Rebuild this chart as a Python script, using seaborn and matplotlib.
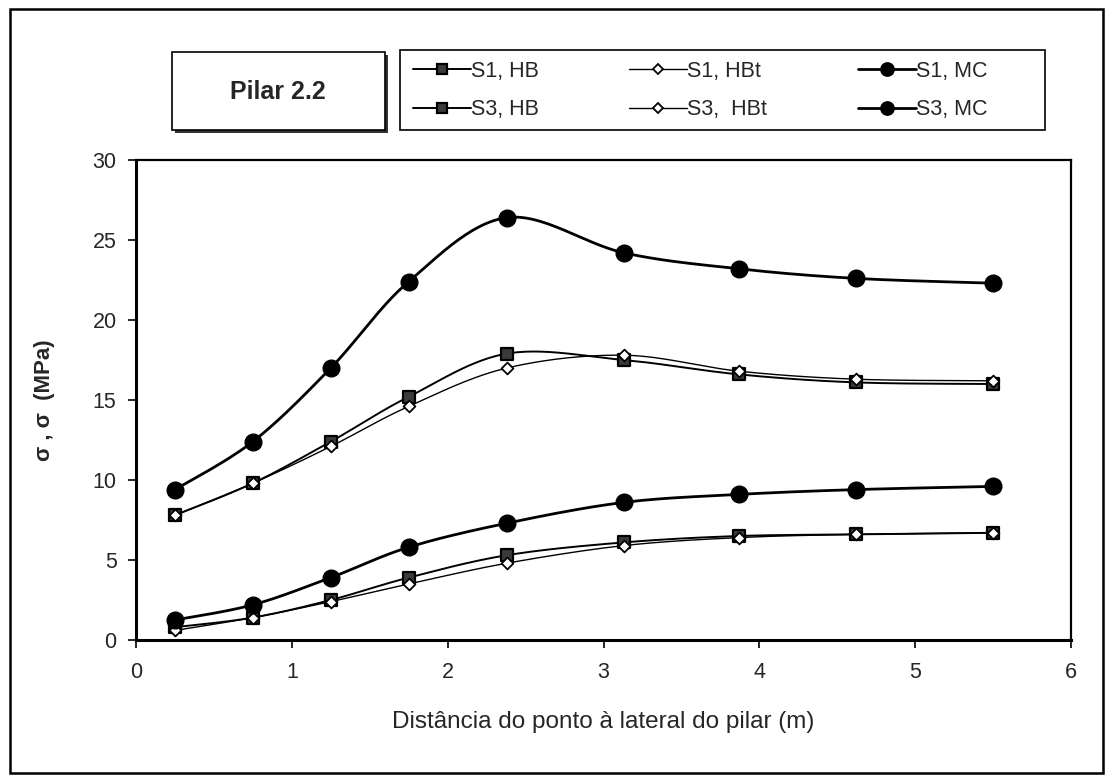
import numpy as np
import pandas as pd
import matplotlib
matplotlib.use("Agg")
import matplotlib.pyplot as plt
from matplotlib.lines import Line2D
from matplotlib.patches import Rectangle
import seaborn as sns

# Distance from the pillar side (m)
dist = [0.25, 0.75, 1.25, 1.75, 2.38, 3.13, 3.87, 4.62, 5.50]

# Stress values (MPa)
s1_hb = [0.8, 1.4, 2.5, 3.9, 5.3, 6.1, 6.5, 6.6, 6.7]
s1_hbt = [0.6, 1.4, 2.4, 3.5, 4.8, 5.9, 6.4, 6.6, 6.7]
s1_mc = [1.25, 2.2, 3.9, 5.8, 7.3, 8.6, 9.1, 9.4, 9.6]
s3_hb = [7.8, 9.8, 12.4, 15.2, 17.9, 17.5, 16.6, 16.1, 16.0]
s3_hbt = [7.8, 9.8, 12.1, 14.6, 17.0, 17.8, 16.8, 16.3, 16.2]
s3_mc = [9.4, 12.4, 17.0, 22.4, 26.4, 24.2, 23.2, 22.6, 22.3]

series_names = ["S1, HB", "S1, HBt", "S1, MC", "S3, HB", "S3,  HBt", "S3, MC"]
series_values = [s1_hb, s1_hbt, s1_mc, s3_hb, s3_hbt, s3_mc]

title_text = "Pilar 2.2"
x_label = "Distância do ponto à lateral do pilar (m)"
y_label = "σ , σ  (MPa)"
x_ticks = [0, 1, 2, 3, 4, 5, 6]
y_ticks = [0, 5, 10, 15, 20, 25, 30]

styles = {
    "HB": dict(marker="s", ms=9, mfc="#3a3a3a", mec="black", mew=1.6, lw=1.4),
    "HBt": dict(marker="D", ms=6, mfc="white", mec="black", mew=1.3, lw=1.0),
    "MC": dict(marker="o", ms=12, mfc="black", mec="black", mew=1.0, lw=2.0),
}


def smooth_curve(xs, ys, steps=30):
    """Cubic Bezier smoothing through the points (Catmull-Rom style)."""
    p = np.column_stack([xs, ys]).astype(float)
    ext = np.vstack([p[0], p, p[-1]])
    out = []
    for i in range(len(p) - 1):
        p0, p1, p2, p3 = ext[i], ext[i + 1], ext[i + 2], ext[i + 3]
        c1 = p1 + (p2 - p0) / 6.0
        c2 = p2 - (p3 - p1) / 6.0
        t = np.linspace(0, 1, steps, endpoint=(i == len(p) - 2))[:, None]
        seg = ((1 - t) ** 3) * p1 + 3 * ((1 - t) ** 2) * t * c1 \
            + 3 * (1 - t) * t ** 2 * c2 + t ** 3 * p2
        out.append(seg)
    out = np.vstack(out)
    return out[:, 0], out[:, 1]


sns.set_theme(style="white")
plt.rcParams["font.family"] = ["Liberation Sans", "DejaVu Sans"]

fig = plt.figure(figsize=(11.11, 7.80), dpi=100)
fig.patch.set_facecolor("white")
ax = fig.add_axes([136 / 1111, 1 - 640 / 780, (1071 - 136) / 1111, 480 / 780])

handles = {}
for name, vals in zip(series_names, series_values):
    kind = name.split(",")[1].strip()
    st = styles[kind]
    cx, cy = smooth_curve(dist, vals)
    curve = pd.DataFrame({"x": cx, "y": cy})
    sns.lineplot(data=curve, x="x", y="y", ax=ax, color="black", lw=st["lw"],
                 sort=False, estimator=None, legend=False)
    pts = pd.DataFrame({"x": dist, "y": vals})
    sns.scatterplot(data=pts, x="x", y="y", ax=ax, marker=st["marker"],
                    s=st["ms"] ** 2, color=st["mfc"], edgecolor=st["mec"],
                    linewidth=st["mew"], zorder=5, legend=False)
    handles[name] = Line2D([], [], color="black", lw=st["lw"], marker=st["marker"],
                           ms=st["ms"] * 0.8, mfc=st["mfc"], mec=st["mec"],
                           mew=st["mew"])

ax.set_xlim(0, 6)
ax.set_ylim(0, 30)
ax.set_xticks(x_ticks)
ax.set_yticks(y_ticks)
ax.set_xlabel(x_label, fontsize=17.5, labelpad=20)
ax.set_ylabel(y_label, fontsize=16, fontweight="bold", labelpad=27)
ax.tick_params(axis="both", direction="out", length=6, width=1.2, color="black",
               labelsize=15.5, bottom=True, left=True)
ax.tick_params(axis="x", pad=10)
ax.tick_params(axis="y", pad=8)
for sp in ax.spines.values():
    sp.set_color("black")
    sp.set_linewidth(1.6)
ax.spines["left"].set_linewidth(2.2)
ax.spines["bottom"].set_linewidth(2.2)
ax.grid(False)

# legend entries, with a separate frame around them
order = ["S1, HB", "S3, HB", "S1, HBt", "S3,  HBt", "S1, MC", "S3, MC"]
leg = fig.legend([handles[k] for k in order], order, ncol=3,
                 loc="upper left", bbox_to_anchor=(400 / 1111, 1 - 48 / 780),
                 frameon=False, fontsize=15.5, handlelength=2.7,
                 handletextpad=0.0, columnspacing=4.2, labelspacing=0.8,
                 borderpad=0.6, borderaxespad=0.0)
fig.patches.append(Rectangle((400 / 1111, 1 - 130 / 780), 645 / 1111, 80 / 780,
                             transform=fig.transFigure, facecolor="white",
                             edgecolor="black", lw=1.2, zorder=0.5))

# title box with shadow
fig.patches.append(Rectangle((175 / 1111, 1 - 133 / 780), 213 / 1111, 78 / 780,
                             transform=fig.transFigure, facecolor="#333333",
                             edgecolor="none", zorder=1))
fig.patches.append(Rectangle((172 / 1111, 1 - 130 / 780), 213 / 1111, 78 / 780,
                             transform=fig.transFigure, facecolor="white",
                             edgecolor="black", lw=1.2, zorder=2))
fig.text(278 / 1111, 1 - 92 / 780, title_text, ha="center", va="center",
         fontsize=18, fontweight="bold", zorder=3)

# outer frame
fig.patches.append(Rectangle((10 / 1111, 1 - 773 / 780), 1093 / 1111, 764 / 780,
                             transform=fig.transFigure, facecolor="none",
                             edgecolor="black", lw=1.8, zorder=0))

fig.savefig("out.png", dpi=100, facecolor="white")
